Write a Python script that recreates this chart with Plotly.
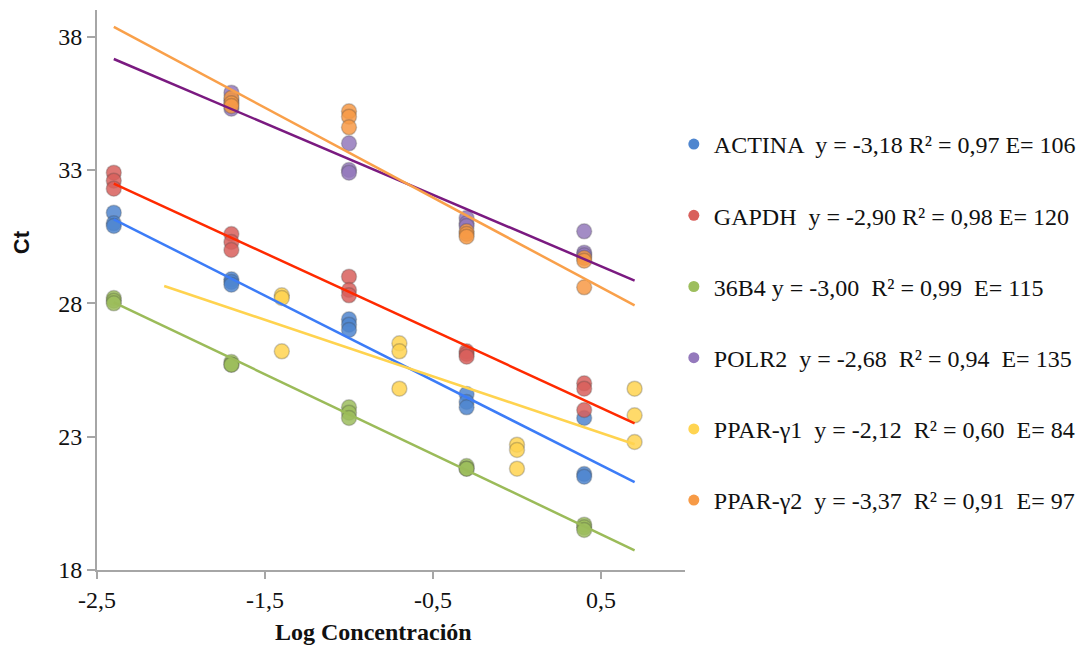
import plotly.graph_objects as go

# Log concentration steps for each standard curve
conc_main = [-2.4, -1.7, -1.0, -0.3, 0.4]
conc_polr2 = [-1.7, -1.0, -0.3, 0.4]
conc_g1 = [-1.4, -0.7, 0.0, 0.7]
conc_g2 = [-1.7, -1.0, -0.3, 0.4]

# Ct replicates per dilution
ct_actina = [[31.4, 31.0, 30.9], [28.9, 28.8, 28.7], [27.4, 27.2, 27.0],
             [24.6, 24.3, 24.1], [23.7, 21.6, 21.5]]
ct_gapdh = [[32.9, 32.6, 32.3], [30.6, 30.3, 30.0], [29.0, 28.5, 28.3],
            [26.2, 26.1, 26.0], [25.0, 24.8, 24.0]]
ct_36b4 = [[28.2, 28.1, 28.0], [25.8, 25.7, 25.7], [24.1, 23.9, 23.7],
           [21.9, 21.8, 21.8], [19.7, 19.6, 19.5]]
ct_polr2 = [[35.9, 35.6, 35.3], [34.0, 33.0, 32.9], [31.2, 31.0, 30.9],
            [30.7, 29.9, 29.8]]
ct_g1 = [[28.3, 28.2, 26.2], [26.5, 26.2, 24.8], [22.7, 22.5, 21.8],
         [24.8, 23.8, 22.8]]
ct_g2 = [[35.7, 35.5, 35.4], [35.2, 35.0, 34.6], [30.7, 30.6, 30.5],
         [29.7, 29.6, 28.6]]

# Linear fits: slope (as reported), intercept, and span of the drawn line
slopes = [-3.18, -2.90, -3.00, -2.68, -2.12, -3.37]
intercepts = [23.52, 25.53, 20.84, 30.73, 24.20, 30.28]
line_start = [-2.4, -2.4, -2.4, -2.4, -2.1, -2.4]
line_end = [0.7, 0.7, 0.7, 0.7, 0.7, 0.7]

legend_labels = [
    "ACTINA  y = -3,18 R² = 0,97 E= 106",
    "GAPDH  y = -2,90 R² = 0,98 E= 120",
    "36B4 y = -3,00  R² = 0,99  E= 115",
    "POLR2  y = -2,68  R² = 0,94  E= 135",
    "PPAR-γ1  y = -2,12  R² = 0,60  E= 84",
    "PPAR-γ2  y = -3,37  R² = 0,91  E= 97",
]

x_tickvals = [-2.5, -1.5, -0.5, 0.5]
x_ticktext = ["-2,5", "-1,5", "-0,5", "0,5"]
y_tickvals = [18, 23, 28, 33, 38]
y_ticktext = ["18", "23", "28", "33", "38"]

marker_colors = ["#4F86CF", "#D9605C", "#9DBE5D", "#9479BC", "#FFD451", "#F79A46"]
line_colors = ["#3C7CF7", "#FF2A00", "#9BBB59", "#7A1A80", "#FFD34F", "#F9A04A"]

series = [
    (conc_main, ct_actina),
    (conc_main, ct_gapdh),
    (conc_main, ct_36b4),
    (conc_polr2, ct_polr2),
    (conc_g1, ct_g1),
    (conc_g2, ct_g2),
]

fig = go.Figure()

# Replicate points
for i, (conc, cts) in enumerate(series):
    xs, ys = [], []
    for c, reps in zip(conc, cts):
        for v in reps:
            xs.append(c)
            ys.append(v)
    fig.add_trace(go.Scatter(
        x=xs, y=ys, mode="markers", showlegend=False,
        marker=dict(size=15, color=marker_colors[i], opacity=0.85,
                    line=dict(width=1.5, color="rgba(60,60,60,0.3)")),
    ))

# Trend lines over the points
for i in range(len(slopes)):
    xs = [line_start[i], line_end[i]]
    ys = [slopes[i] * x + intercepts[i] for x in xs]
    fig.add_trace(go.Scatter(
        x=xs, y=ys, mode="lines", showlegend=False,
        line=dict(color=line_colors[i], width=2.5),
    ))

# Legend entries
for i, label in enumerate(legend_labels):
    fig.add_trace(go.Scatter(
        x=[None], y=[None], mode="markers", name=label,
        legendgroup=f"g{i}",
        marker=dict(size=11, color=marker_colors[i]),
    ))

serif = "Liberation Serif, Times New Roman, serif"

fig.update_layout(
    width=1077, height=650,
    margin=dict(l=97, r=392, t=10, b=80, autoexpand=False),
    paper_bgcolor="white", plot_bgcolor="white",
    font=dict(family=serif, size=24, color="#111"),
    showlegend=True,
    legend=dict(x=0.981, xanchor="left", y=0.8, yanchor="top",
                font=dict(family=serif, size=24, color="#111"),
                tracegroupgap=37, itemsizing="trace",
                bgcolor="rgba(0,0,0,0)"),
    xaxis=dict(range=[-2.5, 1.0], tickvals=x_tickvals, ticktext=x_ticktext,
               showgrid=False, zeroline=False, showline=True,
               linecolor="#A6A6A6", linewidth=2, ticks="outside",
               ticklen=7, tickwidth=2, tickcolor="#A6A6A6",
               tickfont=dict(family=serif, size=24, color="#111")),
    yaxis=dict(range=[18, 39], tickvals=y_tickvals, ticktext=y_ticktext,
               showgrid=False, zeroline=False, showline=True,
               linecolor="#A6A6A6", linewidth=2, ticks="outside",
               ticklen=8, tickwidth=2, tickcolor="#A6A6A6",
               tickfont=dict(family=serif, size=24, color="#111")),
    annotations=[
        dict(text="<b>Log Concentración</b>", xref="paper", yref="paper",
             x=0.47, y=-0.11, xanchor="center", yanchor="middle",
             showarrow=False, font=dict(family=serif, size=24, color="#111")),
        dict(text="<b>Ct</b>", xref="paper", yref="paper",
             x=-0.128, y=0.585, xanchor="center", yanchor="middle",
             textangle=-90, showarrow=False,
             font=dict(family="Liberation Sans, Arial, sans-serif", size=22,
                       color="#111")),
    ],
)

fig.write_html("out.html")
